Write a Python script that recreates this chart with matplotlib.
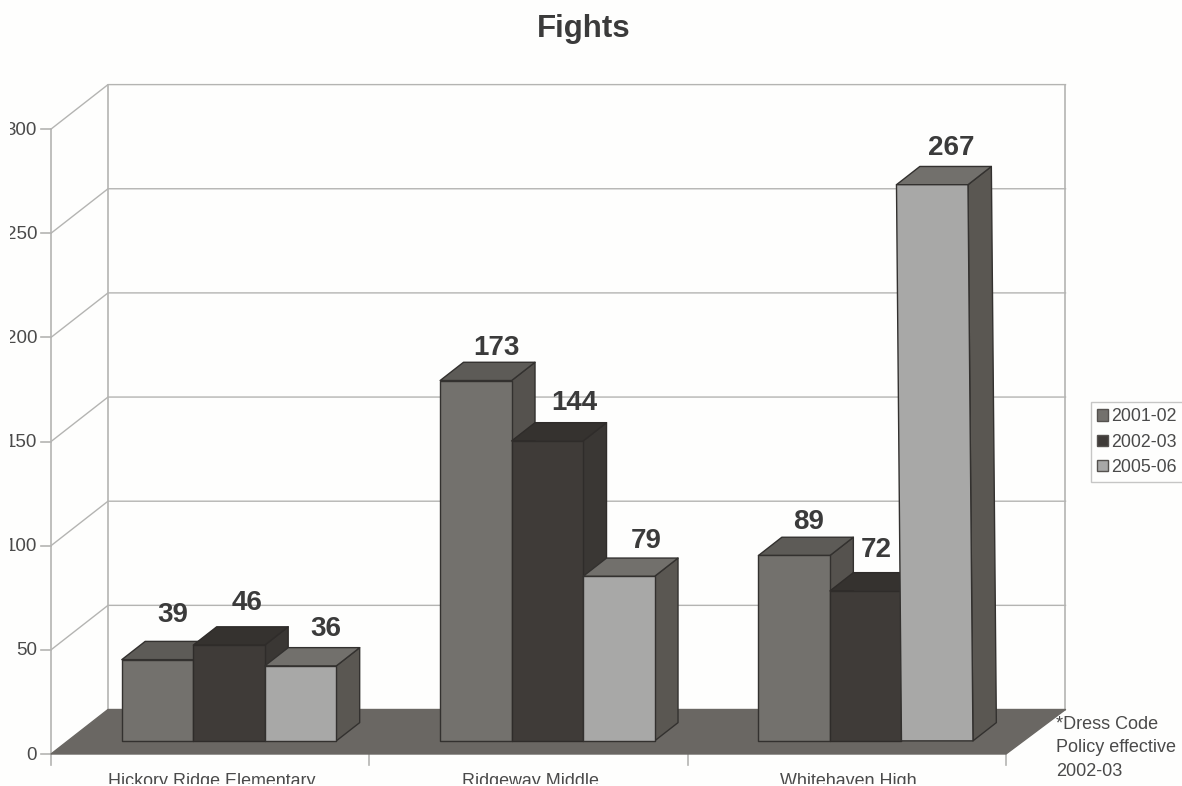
import matplotlib
matplotlib.use("Agg")
import matplotlib.pyplot as plt
from matplotlib.patches import Polygon, Patch
from matplotlib.transforms import Bbox

plt.rcParams["font.family"] = ["Liberation Sans", "DejaVu Sans"]

# Chart data
schools = ["Hickory Ridge Elementary", "Ridgeway Middle", "Whitehaven High"]
years = ["2001-02", "2002-03", "2005-06"]
fights_2001 = [39, 173, 89]
fights_2002 = [46, 144, 72]
fights_2005 = [36, 79, 267]
value_ticks = [0, 50, 100, 150, 200, 250, 300]

# Value-label nudges from each bar's front-top centre, in pixels
label_nudges = [
    [(15, 45), (21, 33), (14, 33)],
    [(18, 42), (27, 38), (11, 41)],
    [(25, 37), (27, 35), (14, 37)],
]

# Horizontal lean of a bar's top, in pixels, keyed by (category, series)
top_lean = {(2, 2): -5}

# Shades per series: front, top, side, outline
shades = [
    ("#73716d", "#5d5b57", "#55524e", "#33312f"),
    ("#3f3b38", "#35322f", "#3a3734", "#2f2c2a"),
    ("#a8a8a7", "#72706c", "#5a5752", "#33312f"),
]

W, H = 1182, 786
PX_PER_CAT = 318.33
PX_PER_VAL = 2.083
ORIGIN_X, ORIGIN_Y = 51, 754
DEPTH_X = 57 / PX_PER_CAT     # full floor depth along the x scale
DEPTH_Y = 44.5 / PX_PER_VAL   # full floor depth along the value scale
BACK_RIGHT_EXTRA = 2.5 / PX_PER_CAT
BAR_WIDTH = 71.5 / PX_PER_CAT
BAR_INSET = 54 / PX_PER_CAT
BAR_D0, BAR_D1 = 0.295, 0.705
WALL = "#b4b4b2"
TEXT = "#4a4a4a"
LABEL = "#3b3b3b"

fig = plt.figure(figsize=(W / 100, H / 100), dpi=100, facecolor="#fefefd")
ax = fig.add_axes([0, 0, 1, 1])
ax.set_xlim(-ORIGIN_X / PX_PER_CAT, (W - ORIGIN_X) / PX_PER_CAT)
ax.set_ylim((ORIGIN_Y - H) / PX_PER_VAL, ORIGIN_Y / PX_PER_VAL)
ax.axis("off")


def project(x, value, depth):
    """Oblique projection of (category position, value, depth 0..1)."""
    return (x + depth * DEPTH_X, value + depth * DEPTH_Y)


def face(points, color, edge=None, z=2, lw=1.0):
    ax.add_patch(Polygon(points, closed=True, facecolor=color,
                         edgecolor=edge if edge else color, linewidth=lw, zorder=z,
                         joinstyle="round"))


n_cat = len(schools)
top_val = value_ticks[-1]
wall_right = n_cat + BACK_RIGHT_EXTRA

# Walls and gridlines
for v in value_ticks[1:]:
    xs, ys = zip(project(0, v, 0), project(0, v, 1), project(wall_right, v, 1))
    ax.plot(xs, ys, color=WALL, lw=1.0, zorder=1)
for x0, d in [(0, 0), (0, 1), (wall_right, 1)]:
    xs, ys = zip(project(x0, 0, d), project(x0, top_val, d))
    ax.plot(xs, ys, color=WALL, lw=1.2, zorder=1)

# Floor
face([project(0, 0, 0), project(0, 0, 1), project(wall_right, 0, 1), project(n_cat, 0, 0)],
     "#6a6763", z=1.5)

# Axis ticks and labels
tick_dx = 10 / PX_PER_CAT
tick_dy = 11 / PX_PER_VAL
for v in value_ticks:
    ax.plot([-tick_dx, 0], [v, v], color=WALL, lw=1.2, zorder=1)
    t = ax.text(-14 / PX_PER_CAT, v - 0.5, str(v), ha="right", va="center", fontsize=13.5,
                color=TEXT)
    t.set_clip_box(Bbox([[10, 0], [W, H]]))
    t.set_clip_on(True)
for i in range(n_cat + 1):
    ax.plot([i, i], [0, -tick_dy], color=WALL, lw=1.2, zorder=1)
for i, name in enumerate(schools):
    t = ax.text(i + 0.5 + 0.005, -32 / PX_PER_VAL, name, ha="center", va="baseline",
                fontsize=12.85, color=TEXT)
    t.set_clip_box(Bbox([[0, 2], [W, H]]))
    t.set_clip_on(True)

# Bars, painted left to right so each one overlaps its neighbour's side
series = [fights_2001, fights_2002, fights_2005]
for c in range(n_cat):
    for s, vals in enumerate(series):
        v = vals[c]
        x0 = c + BAR_INSET + s * BAR_WIDTH
        x1 = x0 + BAR_WIDTH
        lean = top_lean.get((c, s), 0) / PX_PER_CAT
        front, top, side, edge = shades[s]
        z = 3 + c + s * 0.1
        face([project(x1, 0, BAR_D0), project(x1, 0, BAR_D1),
              project(x1 + lean, v, BAR_D1), project(x1 + lean, v, BAR_D0)], side, edge, z)
        face([project(x0 + lean, v, BAR_D0), project(x0 + lean, v, BAR_D1),
              project(x1 + lean, v, BAR_D1), project(x1 + lean, v, BAR_D0)], top, edge, z)
        face([project(x0, 0, BAR_D0), project(x1, 0, BAR_D0),
              project(x1 + lean, v, BAR_D0), project(x0 + lean, v, BAR_D0)], front, edge, z)

# Value labels
for s, vals in enumerate(series):
    for c, v in enumerate(vals):
        x0 = c + BAR_INSET + s * BAR_WIDTH
        anchor = project(x0 + BAR_WIDTH / 2, v, BAR_D0)
        dx, dy = label_nudges[s][c]
        ax.annotate(str(v), anchor, xytext=(dx * 0.72, dy * 0.72), textcoords="offset points",
                    ha="center", va="center", fontsize=20, fontweight="bold",
                    color=LABEL, zorder=20)

# Title, footnote, legend
fig.text(583.5 / W, 1 - 37 / H, "Fights", ha="center", va="baseline", fontsize=22.5,
         fontweight="bold", color=LABEL)
fig.text(1056 / W, 1 - 716 / H, "*Dress Code\nPolicy effective\n2002-03", ha="left", va="top",
         fontsize=13, color=TEXT, linespacing=1.5)

handles = [Patch(facecolor=shades[i][0], edgecolor="#55524f", linewidth=1.0) for i in range(3)]
leg = fig.legend(handles, years, loc="upper left", bbox_to_anchor=(1091 / W, 1 - 402 / H),
                 bbox_transform=fig.transFigure, fontsize=12.8, frameon=True, fancybox=False,
                 edgecolor="#b8b8b8", facecolor="#fefefd", borderaxespad=0, borderpad=0.36,
                 handlelength=0.62, handleheight=0.62, handletextpad=0.15, labelspacing=0.46,
                 labelcolor=TEXT)
leg.get_frame().set_linewidth(1.0)

fig.savefig("out.png", dpi=100, facecolor=fig.get_facecolor())
